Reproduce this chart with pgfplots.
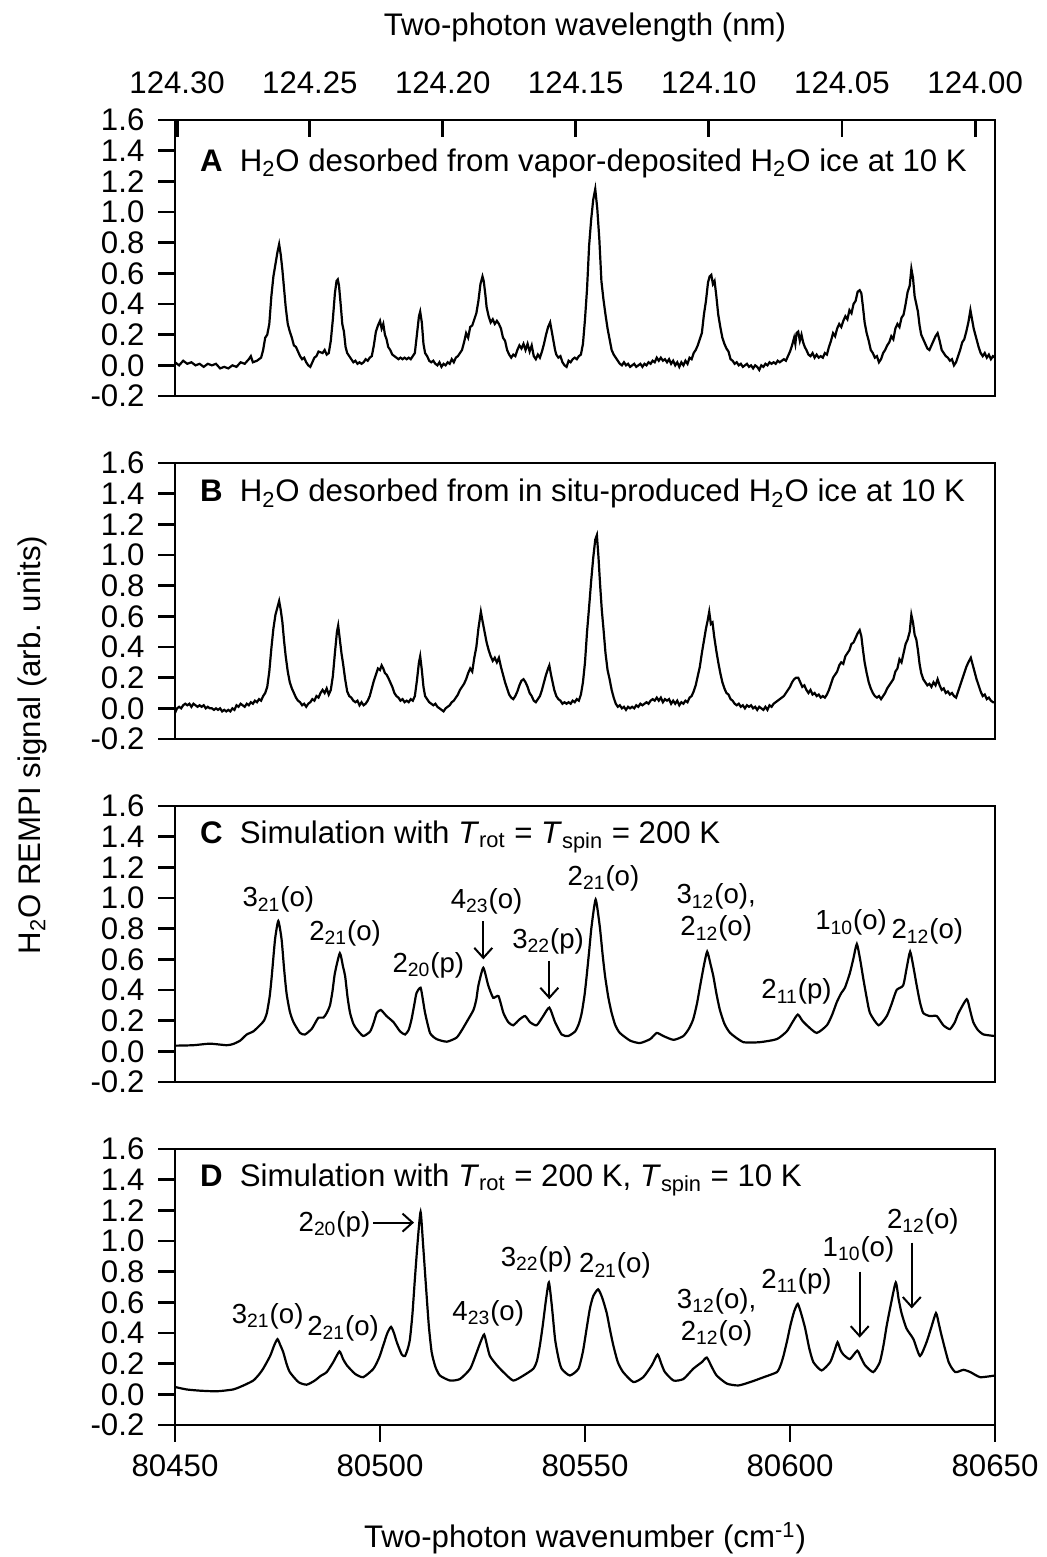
\documentclass[border=0pt]{standalone}
\usepackage{fontspec}
\setmainfont{Liberation Sans}
\usepackage{pgfplots}
\usepackage{pgfplotstable}
\pgfplotsset{compat=1.18}
\usetikzlibrary{arrows.meta}

\newcommand{\fs}{\fontsize{15.6}{19}\selectfont}
\newcommand{\fa}{\fontsize{13.8}{16}\selectfont}
\newcommand{\Ho}{H\textsubscript{2}O}
\newcommand{\lab}[2]{#1\textsubscript{#2}}

% panel A: vapor-deposited ice
\pgfplotstableread{
x y
80450.0 0.02
80451.0 0.00
80452.0 0.03
80453.0 0.01
80454.0 0.02
80455.0 0.00
80456.0 0.01
80457.0 -0.01
80458.0 0.01
80459.0 0.00
80460.0 0.01
80461.0 -0.02
80462.0 -0.01
80463.0 -0.02
80464.0 0.00
80465.0 -0.01
80466.0 0.02
80467.0 0.01
80468.0 0.04
80468.5 0.06
80469.0 0.02
80470.0 0.03
80471.0 0.05
80471.5 0.10
80472.0 0.18
80472.5 0.20
80473.0 0.27
80473.5 0.45
80474.0 0.58
80474.5 0.66
80475.0 0.74
80475.4 0.79
80475.8 0.72
80476.2 0.62
80476.6 0.50
80477.0 0.38
80477.5 0.27
80478.0 0.22
80478.5 0.18
80479.0 0.13
80479.5 0.12
80480.0 0.09
80480.5 0.06
80481.0 0.04
80481.5 0.05
80482.0 0.02
80482.5 0.00
80483.0 -0.01
80483.5 0.02
80484.0 0.05
80484.5 0.06
80485.0 0.09
80486.0 0.08
80486.5 0.10
80487.0 0.07
80487.5 0.08
80488.0 0.16
80488.5 0.30
80489.0 0.47
80489.4 0.55
80489.7 0.56
80490.0 0.52
80490.4 0.40
80490.8 0.27
80491.2 0.22
80491.6 0.12
80492.0 0.08
80492.5 0.06
80493.0 0.04
80493.5 0.02
80494.0 0.03
80494.5 0.01
80495.0 0.02
80495.5 0.01
80496.0 0.02
80496.5 0.04
80497.0 0.03
80497.5 0.05
80498.0 0.06
80498.5 0.13
80499.0 0.22
80499.5 0.26
80500.0 0.29
80500.4 0.24
80500.8 0.27
80501.2 0.20
80501.6 0.17
80502.0 0.12
80502.5 0.10
80503.0 0.07
80503.5 0.06
80504.0 0.05
80504.5 0.04
80505.0 0.05
80505.5 0.04
80506.0 0.05
80506.5 0.04
80507.0 0.05
80507.5 0.04
80508.0 0.06
80508.5 0.08
80509.0 0.20
80509.5 0.32
80509.8 0.35
80510.2 0.28
80510.6 0.14
80511.0 0.08
80511.5 0.06
80512.0 0.03
80512.5 0.02
80513.0 0.03
80513.5 0.01
80514.0 0.00
80514.5 0.02
80515.0 -0.01
80515.5 0.01
80516.0 0.00
80516.5 0.02
80517.0 0.01
80517.5 0.04
80518.0 0.02
80518.5 0.05
80519.0 0.06
80519.5 0.08
80520.0 0.10
80520.5 0.15
80521.0 0.21
80521.5 0.18
80522.0 0.25
80522.5 0.26
80523.0 0.30
80523.5 0.34
80524.0 0.42
80524.5 0.53
80525.0 0.58
80525.3 0.55
80525.7 0.46
80526.0 0.38
80526.5 0.32
80527.0 0.28
80527.5 0.30
80528.0 0.27
80528.5 0.29
80529.0 0.27
80529.5 0.24
80530.0 0.18
80530.5 0.16
80531.0 0.10
80531.5 0.07
80532.0 0.05
80532.5 0.07
80533.0 0.06
80533.5 0.10
80534.0 0.13
80534.5 0.11
80535.0 0.14
80535.5 0.10
80536.0 0.14
80536.5 0.09
80537.0 0.13
80537.5 0.06
80538.0 0.04
80538.5 0.07
80539.0 0.05
80539.5 0.09
80540.0 0.14
80540.5 0.20
80541.0 0.25
80541.5 0.28
80541.9 0.22
80542.3 0.16
80542.7 0.10
80543.0 0.07
80543.5 0.05
80544.0 0.06
80544.5 0.02
80545.0 0.00
80545.5 -0.01
80546.0 0.03
80546.5 0.02
80547.0 0.04
80547.5 0.05
80548.0 0.04
80548.5 0.06
80549.0 0.07
80549.5 0.14
80550.0 0.30
80550.5 0.50
80551.0 0.78
80551.5 0.95
80552.0 1.08
80552.5 1.15
80553.0 1.02
80553.5 0.82
80554.0 0.55
80554.5 0.43
80555.0 0.33
80555.5 0.24
80556.0 0.17
80556.5 0.10
80557.0 0.07
80557.5 0.05
80558.0 0.03
80558.5 0.01
80559.0 0.00
80559.5 0.02
80560.0 0.00
80560.5 0.01
80561.0 -0.01
80561.5 0.00
80562.0 0.01
80562.5 -0.01
80563.0 0.00
80563.5 0.01
80564.0 -0.01
80564.5 0.01
80565.0 0.00
80565.5 0.02
80566.0 0.01
80566.5 0.03
80567.0 0.02
80567.5 0.05
80568.0 0.03
80568.5 0.05
80569.0 0.03
80569.5 0.04
80570.0 0.02
80570.5 0.04
80571.0 0.01
80571.5 0.03
80572.0 0.00
80572.5 0.02
80573.0 -0.01
80573.5 0.02
80574.0 0.00
80574.5 0.03
80575.0 0.01
80575.5 0.05
80576.0 0.04
80576.5 0.08
80577.0 0.10
80577.5 0.13
80578.0 0.17
80578.5 0.21
80579.0 0.33
80579.5 0.42
80580.0 0.54
80580.4 0.58
80580.8 0.59
80581.2 0.53
80581.6 0.55
80582.0 0.46
80582.5 0.33
80583.0 0.25
80583.5 0.18
80584.0 0.14
80584.5 0.11
80585.0 0.09
80585.5 0.04
80586.0 0.03
80586.5 0.01
80587.0 0.02
80587.5 0.00
80588.0 0.01
80588.5 -0.01
80589.0 0.00
80589.5 0.01
80590.0 -0.01
80590.5 0.00
80591.0 -0.02
80591.5 0.00
80592.0 -0.01
80592.5 -0.03
80593.0 0.00
80593.5 -0.01
80594.0 0.01
80594.5 0.00
80595.0 0.02
80595.5 0.01
80596.0 0.02
80596.5 0.01
80597.0 0.03
80597.5 0.02
80598.0 0.03
80598.5 0.04
80599.0 0.03
80599.5 0.06
80600.0 0.09
80600.5 0.13
80601.0 0.18
80601.3 0.14
80601.6 0.21
80602.0 0.22
80602.4 0.16
80602.8 0.20
80603.2 0.15
80603.6 0.12
80604.0 0.10
80604.5 0.07
80605.0 0.06
80605.5 0.08
80606.0 0.05
80606.5 0.07
80607.0 0.05
80607.5 0.06
80608.0 0.05
80608.5 0.08
80609.0 0.07
80609.5 0.12
80610.0 0.16
80610.5 0.21
80611.0 0.19
80611.5 0.24
80612.0 0.27
80612.5 0.25
80613.0 0.29
80613.5 0.32
80614.0 0.30
80614.5 0.36
80615.0 0.34
80615.5 0.40
80616.0 0.42
80616.5 0.48
80617.0 0.49
80617.4 0.47
80617.8 0.38
80618.2 0.28
80618.7 0.21
80619.2 0.16
80619.7 0.10
80620.2 0.08
80620.7 0.05
80621.2 0.06
80621.7 0.02
80622.2 0.04
80622.7 0.08
80623.2 0.10
80623.7 0.13
80624.2 0.15
80624.7 0.19
80625.2 0.17
80625.7 0.24
80626.2 0.27
80626.7 0.25
80627.2 0.31
80627.7 0.33
80628.2 0.40
80628.7 0.48
80629.2 0.52
80629.6 0.63
80630.0 0.57
80630.4 0.45
80630.8 0.40
80631.2 0.35
80631.6 0.26
80632.0 0.20
80632.5 0.17
80633.0 0.14
80633.5 0.11
80634.0 0.10
80634.5 0.13
80635.0 0.16
80635.5 0.19
80636.0 0.21
80636.5 0.16
80637.0 0.10
80637.5 0.08
80638.0 0.06
80638.5 0.05
80639.0 0.03
80639.5 0.04
80640.0 0.00
80640.5 0.02
80641.0 0.06
80641.5 0.10
80642.0 0.15
80642.5 0.17
80643.0 0.22
80643.5 0.28
80644.0 0.36
80644.4 0.30
80644.8 0.24
80645.2 0.20
80645.6 0.16
80646.0 0.12
80646.5 0.08
80647.0 0.06
80647.5 0.08
80648.0 0.05
80648.5 0.07
80649.0 0.04
80649.5 0.06
80650.0 0.05
}\dataA

% panel B: in situ-produced ice
\pgfplotstableread{
x y
80450.0 -0.03
80450.5 0.00
80451.0 0.01
80451.5 0.00
80452.0 0.02
80452.5 0.03
80453.0 0.02
80453.5 0.03
80454.0 0.01
80454.5 0.03
80455.0 0.02
80455.5 0.01
80456.0 0.02
80456.5 0.01
80457.0 0.02
80457.5 0.00
80458.0 0.01
80458.5 0.00
80459.0 0.00
80459.5 -0.01
80460.0 0.00
80460.5 -0.01
80461.0 0.00
80461.5 -0.02
80462.0 -0.01
80462.5 -0.02
80463.0 -0.01
80463.5 -0.02
80464.0 0.00
80464.5 -0.01
80465.0 0.02
80465.5 0.01
80466.0 0.03
80466.5 0.02
80467.0 0.01
80467.5 0.03
80468.0 0.02
80468.5 0.04
80469.0 0.03
80469.5 0.05
80470.0 0.04
80470.5 0.06
80471.0 0.05
80471.5 0.08
80472.0 0.10
80472.5 0.14
80473.0 0.24
80473.5 0.39
80474.0 0.52
80474.5 0.61
80475.0 0.66
80475.4 0.70
80475.8 0.64
80476.2 0.56
80476.6 0.44
80477.0 0.34
80477.5 0.24
80478.0 0.17
80478.5 0.13
80479.0 0.10
80479.5 0.07
80480.0 0.05
80480.5 0.04
80481.0 0.02
80481.5 0.03
80482.0 0.01
80482.5 0.03
80483.0 0.04
80483.5 0.06
80484.0 0.05
80484.5 0.08
80485.0 0.07
80485.5 0.10
80486.0 0.12
80486.5 0.10
80487.0 0.13
80487.5 0.09
80488.0 0.12
80488.5 0.21
80489.0 0.36
80489.5 0.50
80489.8 0.54
80490.2 0.45
80490.6 0.36
80491.0 0.29
80491.5 0.19
80492.0 0.11
80492.5 0.08
80493.0 0.07
80493.5 0.05
80494.0 0.04
80494.5 0.05
80495.0 0.02
80495.5 0.04
80496.0 0.02
80496.5 0.03
80497.0 0.05
80497.5 0.08
80498.0 0.13
80498.5 0.18
80499.0 0.22
80499.5 0.26
80500.0 0.25
80500.4 0.28
80500.8 0.26
80501.2 0.23
80501.6 0.22
80502.0 0.20
80502.5 0.17
80503.0 0.14
80503.5 0.10
80504.0 0.08
80504.5 0.07
80505.0 0.05
80505.5 0.06
80506.0 0.04
80506.5 0.05
80507.0 0.04
80507.5 0.06
80508.0 0.05
80508.5 0.08
80509.0 0.18
80509.5 0.30
80509.8 0.34
80510.2 0.25
80510.6 0.14
80511.0 0.08
80511.5 0.06
80512.0 0.04
80512.5 0.03
80513.0 0.02
80513.5 0.03
80514.0 0.01
80514.5 0.00
80515.0 -0.01
80515.5 -0.02
80516.0 0.00
80516.5 0.01
80517.0 0.02
80517.5 0.04
80518.0 0.05
80518.5 0.07
80519.0 0.09
80519.5 0.12
80520.0 0.14
80520.5 0.16
80521.0 0.19
80521.5 0.23
80522.0 0.26
80522.5 0.24
80523.0 0.33
80523.5 0.40
80524.0 0.52
80524.6 0.63
80525.0 0.57
80525.5 0.50
80526.0 0.43
80526.5 0.38
80527.0 0.34
80527.5 0.31
80528.0 0.33
80528.5 0.30
80529.0 0.33
80529.5 0.27
80530.0 0.22
80530.5 0.17
80531.0 0.13
80531.5 0.09
80532.0 0.07
80532.5 0.06
80533.0 0.08
80533.5 0.11
80534.0 0.15
80534.5 0.18
80535.0 0.19
80535.5 0.17
80536.0 0.14
80536.5 0.10
80537.0 0.08
80537.5 0.05
80538.0 0.04
80538.5 0.06
80539.0 0.08
80539.5 0.12
80540.0 0.17
80540.5 0.22
80541.0 0.26
80541.3 0.28
80541.7 0.22
80542.1 0.17
80542.5 0.12
80543.0 0.08
80543.5 0.06
80544.0 0.05
80544.5 0.03
80545.0 0.04
80545.5 0.03
80546.0 0.04
80546.5 0.03
80547.0 0.05
80547.5 0.04
80548.0 0.06
80548.5 0.05
80549.0 0.09
80549.5 0.17
80550.0 0.30
80550.5 0.50
80551.0 0.66
80551.5 0.83
80552.0 0.98
80552.5 1.10
80552.9 1.13
80553.3 0.98
80553.7 0.80
80554.1 0.64
80554.5 0.52
80555.0 0.36
80555.5 0.25
80556.0 0.19
80556.5 0.12
80557.0 0.07
80557.5 0.03
80558.0 0.01
80558.5 0.02
80559.0 0.00
80559.5 0.01
80560.0 -0.01
80560.5 0.01
80561.0 0.00
80561.5 0.01
80562.0 0.00
80562.5 0.02
80563.0 0.01
80563.5 0.03
80564.0 0.02
80564.5 0.03
80565.0 0.04
80565.5 0.03
80566.0 0.05
80566.5 0.06
80567.0 0.05
80567.5 0.07
80568.0 0.05
80568.5 0.07
80569.0 0.04
80569.5 0.06
80570.0 0.05
80570.5 0.06
80571.0 0.03
80571.5 0.05
80572.0 0.03
80572.5 0.05
80573.0 0.02
80573.5 0.04
80574.0 0.03
80574.5 0.05
80575.0 0.04
80575.5 0.07
80576.0 0.08
80576.5 0.11
80577.0 0.15
80577.5 0.21
80578.0 0.27
80578.5 0.36
80579.0 0.44
80579.5 0.52
80579.9 0.57
80580.3 0.63
80580.7 0.55
80581.1 0.56
80581.5 0.47
80582.0 0.38
80582.5 0.30
80583.0 0.23
80583.5 0.17
80584.0 0.13
80584.5 0.10
80585.0 0.09
80585.5 0.06
80586.0 0.05
80586.5 0.03
80587.0 0.02
80587.5 0.03
80588.0 0.01
80588.5 0.02
80589.0 0.00
80589.5 0.02
80590.0 0.01
80590.5 0.02
80591.0 0.00
80591.5 0.01
80592.0 -0.01
80592.5 0.01
80593.0 0.00
80593.5 -0.01
80594.0 0.01
80594.5 -0.01
80595.0 0.02
80595.5 0.01
80596.0 0.03
80596.5 0.04
80597.0 0.05
80597.5 0.06
80598.0 0.07
80598.5 0.08
80599.0 0.10
80599.5 0.12
80600.0 0.14
80600.5 0.17
80601.0 0.19
80601.5 0.20
80602.0 0.20
80602.5 0.17
80603.0 0.14
80603.5 0.15
80604.0 0.12
80604.5 0.10
80605.0 0.12
80605.5 0.09
80606.0 0.10
80606.5 0.08
80607.0 0.09
80607.5 0.07
80608.0 0.08
80608.5 0.07
80609.0 0.09
80609.5 0.12
80610.0 0.16
80610.5 0.20
80611.0 0.22
80611.5 0.24
80612.0 0.28
80612.5 0.30
80613.0 0.29
80613.5 0.34
80614.0 0.36
80614.5 0.38
80615.0 0.42
80615.5 0.43
80616.0 0.46
80616.5 0.49
80617.0 0.51
80617.4 0.47
80617.8 0.38
80618.2 0.30
80618.7 0.23
80619.2 0.17
80619.7 0.13
80620.2 0.10
80620.7 0.08
80621.2 0.07
80621.7 0.08
80622.2 0.06
80622.7 0.08
80623.2 0.10
80623.7 0.13
80624.2 0.15
80624.7 0.17
80625.2 0.19
80625.7 0.24
80626.2 0.26
80626.7 0.32
80627.2 0.30
80627.7 0.36
80628.2 0.42
80628.7 0.45
80629.2 0.50
80629.6 0.61
80630.0 0.56
80630.4 0.48
80630.8 0.45
80631.2 0.38
80631.6 0.29
80632.0 0.23
80632.5 0.19
80633.0 0.17
80633.5 0.15
80634.0 0.16
80634.5 0.14
80635.0 0.17
80635.5 0.15
80636.0 0.19
80636.5 0.15
80637.0 0.12
80637.5 0.13
80638.0 0.10
80638.5 0.11
80639.0 0.09
80639.5 0.10
80640.0 0.08
80640.5 0.07
80641.0 0.11
80641.5 0.15
80642.0 0.19
80642.5 0.23
80643.0 0.27
80643.5 0.30
80644.1 0.33
80644.5 0.29
80645.0 0.24
80645.5 0.19
80646.0 0.15
80646.5 0.11
80647.0 0.08
80647.5 0.09
80648.0 0.06
80648.5 0.07
80649.0 0.05
80649.5 0.04
80650.0 0.04
}\dataB

% panel C: simulation, Trot = Tspin = 200 K
\pgfplotstableread{
x y
80450.0 0.037
80454.5 0.040
80458.5 0.050
80462.6 0.040
80464.2 0.048
80465.9 0.07
80467.5 0.11
80469.1 0.13
80470.7 0.17
80471.7 0.20
80472.4 0.25
80473.1 0.36
80473.6 0.49
80474.4 0.73
80475.2 0.85
80476.0 0.73
80476.6 0.54
80477.2 0.38
80478.0 0.26
80478.9 0.19
80480.5 0.12
80481.7 0.11
80483.3 0.145
80484.3 0.19
80485.0 0.22
80486.2 0.22
80487.0 0.25
80487.8 0.30
80488.4 0.39
80489.0 0.51
80490.2 0.64
80491.0 0.55
80491.5 0.49
80492.1 0.35
80492.7 0.25
80493.5 0.18
80494.3 0.145
80495.9 0.10
80497.6 0.13
80498.5 0.19
80499.2 0.25
80500.2 0.27
80501.6 0.23
80503.3 0.19
80504.9 0.13
80506.1 0.11
80507.0 0.14
80507.7 0.21
80508.4 0.31
80508.9 0.38
80509.9 0.415
80510.5 0.33
80511.0 0.25
80512.2 0.12
80513.8 0.08
80516.3 0.063
80518.7 0.09
80520.0 0.14
80521.1 0.19
80522.8 0.27
80523.5 0.34
80524.0 0.43
80525.2 0.545
80526.4 0.43
80527.6 0.35
80528.9 0.36
80530.1 0.25
80531.3 0.19
80532.5 0.17
80534.1 0.21
80535.4 0.23
80536.6 0.19
80538.2 0.17
80539.8 0.23
80541.3 0.285
80542.7 0.19
80544.3 0.11
80545.9 0.10
80547.6 0.13
80548.5 0.18
80549.2 0.25
80549.9 0.37
80550.4 0.49
80551.0 0.65
80551.6 0.815
80552.6 0.99
80553.6 0.815
80554.3 0.63
80554.9 0.49
80555.7 0.35
80556.5 0.25
80557.4 0.17
80558.5 0.12
80561.0 0.07
80563.4 0.054
80565.9 0.08
80567.5 0.12
80569.1 0.10
80571.6 0.075
80574.0 0.10
80575.4 0.15
80576.4 0.21
80577.3 0.31
80578.1 0.43
80579.0 0.56
80579.8 0.65
80580.6 0.57
80581.3 0.49
80582.1 0.37
80582.9 0.27
80584.0 0.18
80585.4 0.12
80588.6 0.06
80592.7 0.06
80596.8 0.08
80599.2 0.13
80600.6 0.19
80601.9 0.24
80603.0 0.20
80604.1 0.17
80606.5 0.12
80609.0 0.17
80610.3 0.24
80611.4 0.32
80612.5 0.38
80613.4 0.415
80614.6 0.51
80615.5 0.61
80616.3 0.70
80617.1 0.60
80617.9 0.47
80618.7 0.35
80619.5 0.25
80621.6 0.17
80623.6 0.23
80624.8 0.31
80626.0 0.40
80627.6 0.43
80628.5 0.55
80629.3 0.65
80630.1 0.55
80630.9 0.43
80631.7 0.32
80632.5 0.25
80634.1 0.23
80635.8 0.23
80637.4 0.17
80639.0 0.145
80640.2 0.19
80641.1 0.25
80643.1 0.34
80643.9 0.27
80644.7 0.19
80645.8 0.14
80647.2 0.11
80650.0 0.10
}\dataC

% panel D: simulation, Trot = 200 K, Tspin = 10 K
\pgfplotstableread{
x y
80450.0 0.048
80452.8 0.032
80456.1 0.024
80460.2 0.020
80464.2 0.032
80466.7 0.058
80469.1 0.09
80470.5 0.13
80471.5 0.167
80473.2 0.25
80474.2 0.32
80475.0 0.36
80475.7 0.32
80476.4 0.275
80477.2 0.20
80478.0 0.145
80480.1 0.08
80482.1 0.063
80484.1 0.09
80485.5 0.12
80487.0 0.145
80488.6 0.21
80490.1 0.28
80491.0 0.23
80491.9 0.19
80493.9 0.134
80495.9 0.112
80498.4 0.167
80499.8 0.24
80500.8 0.32
80501.8 0.40
80502.7 0.44
80503.4 0.40
80504.1 0.34
80505.3 0.26
80506.1 0.25
80506.8 0.30
80507.3 0.36
80507.9 0.52
80508.5 0.75
80509.2 1.00
80509.9 1.19
80510.5 0.98
80511.2 0.71
80511.9 0.45
80512.6 0.275
80513.5 0.18
80514.6 0.123
80517.1 0.09
80519.5 0.10
80522.0 0.167
80523.6 0.275
80524.5 0.34
80525.4 0.39
80526.1 0.32
80526.8 0.25
80528.5 0.19
80530.1 0.145
80532.5 0.09
80535.0 0.123
80537.4 0.167
80538.3 0.22
80539.0 0.32
80539.7 0.45
80540.5 0.62
80541.2 0.73
80541.9 0.58
80542.7 0.36
80543.5 0.24
80544.3 0.167
80546.3 0.123
80548.4 0.167
80549.5 0.28
80550.4 0.43
80551.2 0.56
80552.0 0.64
80553.2 0.685
80554.2 0.63
80555.3 0.53
80556.1 0.42
80556.9 0.32
80558.0 0.21
80559.3 0.145
80561.8 0.08
80564.2 0.112
80566.3 0.19
80567.7 0.26
80568.6 0.20
80569.5 0.145
80571.6 0.09
80574.0 0.10
80576.4 0.167
80578.5 0.21
80579.7 0.24
80580.9 0.18
80582.1 0.123
80584.6 0.07
80587.4 0.058
80590.3 0.08
80593.6 0.112
80596.8 0.145
80597.7 0.19
80598.4 0.25
80599.3 0.35
80600.1 0.45
80601.0 0.54
80601.9 0.59
80602.8 0.52
80603.7 0.43
80604.7 0.30
80605.7 0.21
80607.7 0.156
80609.8 0.21
80610.8 0.28
80611.6 0.34
80612.3 0.29
80613.0 0.26
80614.6 0.23
80616.4 0.285
80617.3 0.24
80618.3 0.19
80620.3 0.145
80621.9 0.21
80622.8 0.32
80623.6 0.45
80624.7 0.60
80625.8 0.73
80626.5 0.62
80627.2 0.53
80628.4 0.43
80630.1 0.36
80631.7 0.25
80633.3 0.34
80634.5 0.44
80635.6 0.53
80636.3 0.46
80637.0 0.38
80638.7 0.21
80640.3 0.145
80642.3 0.16
80644.0 0.145
80646.4 0.112
80650.0 0.123
}\dataD

\pgfplotsset{
  panel/.style={
    width=410pt, height=138pt, scale only axis,
    xmin=80450, xmax=80650, ymin=-0.2, ymax=1.6,
    anchor=north west,
    clip=false,
    scaled x ticks=false,
    axis line style={line width=1.4pt},
    every tick/.style={line width=1.4pt, black},
    tick align=outside, major tick length=8.3pt,
    ytick pos=left,
    ytick={-0.2,0,0.2,0.4,0.6,0.8,1.0,1.2,1.4,1.6},
    yticklabels={-0.2,0.0,0.2,0.4,0.6,0.8,1.0,1.2,1.4,1.6},
    yticklabel style={xshift=-3.5pt},
    xtick=\empty,
    tick label style={font=\fs},
  },
  spec/.style={black, line width=1.1pt, mark=none},
  sim/.style={black, line width=1.1pt, mark=none, smooth, tension=0.35},
}
\tikzset{
  note/.style={font=\fa, inner sep=1pt},
  arr/.style={-{Straight Barb[length=5pt,width=9pt]}, line width=1pt},
}

\begin{document}
\begin{tikzpicture}
\path[use as bounding box] (0,0) rectangle (523pt,-778.5pt);

% A
\begin{axis}[panel, at={(87.5pt,-60pt)}]
\addplot[spec] table {\dataA};
\node[anchor=west, font=\fs] at (rel axis cs:0.022,0.844)
  {\textbf{A}\hspace{0.55em}\Ho{} desorbed from vapor-deposited \Ho{} ice at 10 K};
\end{axis}
% top wavelength axis
\begin{axis}[width=410pt, height=138pt, scale only axis, anchor=north west,
  at={(87.5pt,-60pt)},
  xmin=80450, xmax=80650, ymin=-0.2, ymax=1.6,
  scaled x ticks=false,
  axis x line*=top, axis y line=none,
  axis line style={line width=1.4pt},
  every tick/.style={line width=1.4pt, black},
  tick align=inside, major tick length=8.3pt,
  xtick={80450.52,80482.90,80515.30,80547.72,80580.18,80612.66,80645.16},
  xticklabels={124.30,124.25,124.20,124.15,124.10,124.05,124.00},
  xticklabel style={font=\fs, yshift=9.5pt},
]
\end{axis}

% B
\begin{axis}[panel, at={(87.5pt,-231.5pt)}]
\addplot[spec] table {\dataB};
\node[anchor=west, font=\fs] at (rel axis cs:0.022,0.888)
  {\textbf{B}\hspace{0.55em}\Ho{} desorbed from in situ-produced \Ho{} ice at 10 K};
\end{axis}

% C
\begin{axis}[panel, at={(87.5pt,-403pt)}]
\addplot[sim] table {\dataC};
\node[anchor=west, font=\fs] at (rel axis cs:0.022,0.888)
  {\textbf{C}\hspace{0.55em}Simulation with \textit{T}\textsubscript{rot} = \textit{T}\textsubscript{spin} = 200 K};
\node[note] at (axis cs:80475.2,0.99) {\lab{3}{21}(o)};
\node[note] at (axis cs:80491.5,0.77) {\lab{2}{21}(o)};
\node[note] at (axis cs:80511.8,0.56) {\lab{2}{20}(p)};
\node[note] at (axis cs:80526.0,0.98) {\lab{4}{23}(o)};
\draw[arr] (axis cs:80525.2,0.85) -- (axis cs:80525.2,0.60);
\node[note] at (axis cs:80541.0,0.72) {\lab{3}{22}(p)};
\draw[arr] (axis cs:80541.3,0.59) -- (axis cs:80541.3,0.34);
\node[note] at (axis cs:80554.5,1.13) {\lab{2}{21}(o)};
\node[note, align=center] at (axis cs:80582.0,0.905) {\lab{3}{12}(o),\\\lab{2}{12}(o)};
\node[note] at (axis cs:80601.6,0.39) {\lab{2}{11}(p)};
\node[note] at (axis cs:80614.9,0.84) {\lab{1}{10}(o)};
\node[note] at (axis cs:80633.5,0.78) {\lab{2}{12}(o)};
\end{axis}

% D
\begin{axis}[panel, at={(87.5pt,-574.5pt)},
  xtick={80450,80500,80550,80600,80650},
  xticklabels={80450,80500,80550,80600,80650},
  xticklabel style={yshift=-3pt},
  xtick pos=bottom]
\addplot[sim] table {\dataD};
\node[anchor=west, font=\fs] at (rel axis cs:0.022,0.888)
  {\textbf{D}\hspace{0.55em}Simulation with \textit{T}\textsubscript{rot} = 200 K, \textit{T}\textsubscript{spin} = 10 K};
\node[note] at (axis cs:80472.6,0.51) {\lab{3}{21}(o)};
\node[note] at (axis cs:80491.0,0.43) {\lab{2}{21}(o)};
\node[note, anchor=east] at (axis cs:80498.2,1.11) {\lab{2}{20}(p)};
\draw[arr] (axis cs:80498.4,1.12) -- (axis cs:80508.3,1.12);
\node[note] at (axis cs:80526.4,0.53) {\lab{4}{23}(o)};
\node[note] at (axis cs:80538.2,0.88) {\lab{3}{22}(p)};
\node[note] at (axis cs:80557.3,0.84) {\lab{2}{21}(o)};
\node[note, align=center] at (axis cs:80582.1,0.505) {\lab{3}{12}(o),\\\lab{2}{12}(o)};
\node[note] at (axis cs:80601.6,0.74) {\lab{2}{11}(p)};
\node[note] at (axis cs:80616.7,0.945) {\lab{1}{10}(o)};
\draw[arr] (axis cs:80617.0,0.80) -- (axis cs:80617.0,0.37);
\node[note] at (axis cs:80632.4,1.13) {\lab{2}{12}(o)};
\draw[arr] (axis cs:80629.7,0.99) -- (axis cs:80629.7,0.56);
\end{axis}

% titles
\node[font=\fs] at (292.5pt,-13.5pt) {Two-photon wavelength (nm)};
\node[font=\fs] at (292.5pt,-769pt) {Two-photon wavenumber (cm\textsuperscript{-1})};
\node[font=\fs, rotate=90] at (16pt,-372.5pt) {\Ho{} REMPI signal (arb. units)};
\end{tikzpicture}
\end{document}
